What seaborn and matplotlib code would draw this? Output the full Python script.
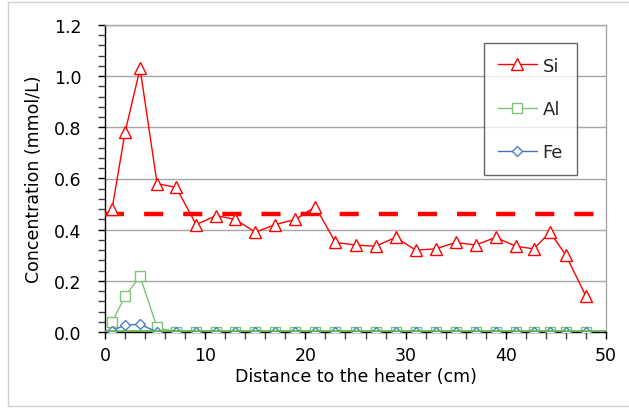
import matplotlib
matplotlib.use("Agg")
import matplotlib.pyplot as plt
import seaborn as sns
import pandas as pd
from matplotlib.patches import Rectangle
from matplotlib.ticker import MultipleLocator

# Data
distance = [0.7, 2.0, 3.5, 5.2, 7.1, 9.1, 11.1, 13.0, 15.0, 17.0, 19.0, 21.0, 23.0,
            25.0, 27.0, 29.0, 31.0, 33.0, 35.0, 37.0, 39.0, 41.0, 42.8, 44.4, 46.0, 48.0]
si = [0.48, 0.78, 1.03, 0.58, 0.565, 0.42, 0.455, 0.44, 0.39, 0.42, 0.44, 0.49, 0.35,
      0.34, 0.335, 0.37, 0.32, 0.325, 0.35, 0.34, 0.37, 0.335, 0.325, 0.39, 0.30, 0.14]
al = [0.038, 0.14, 0.217, 0.018] + [0.0] * 22
fe = [0.005, 0.027, 0.03, 0.0] + [0.0] * 22
si_mean_level = 0.462
ref_x = [0, 50]
zero_level = 0.0

sns.set_theme(style="white")
plt.rcParams['font.family'] = ['DejaVu Sans']

fig = plt.figure(figsize=(6.29, 4.10), dpi=100)
ax = fig.add_axes([105/629, 1 - 333/410, (606-105)/629, (333-26)/410])

# chart area border
fig.patches.append(Rectangle((8/629, 3/410), 1.2, (407-3)/410, transform=fig.transFigure,
                             fill=False, edgecolor='#d0d0d0', linewidth=1.0, zorder=0))

df = pd.DataFrame({"x": distance, "Si": si, "Al": al, "Fe": fe})

# grid
for yv in [0.2, 0.4, 0.6, 0.8, 1.0, 1.2]:
    ax.axhline(yv, color='#a6a6a6', linewidth=1.0, zorder=0)

# reference lines
ax.plot(ref_x, [zero_level, zero_level], color='#5fb34a', linewidth=2.6, zorder=7, solid_capstyle='butt')
ax.plot(ref_x, [si_mean_level, si_mean_level], color='#ff0000', linewidth=3.2,
        dashes=(4.3, 4.5), zorder=3)

sns.lineplot(data=df, x="x", y="Si", ax=ax, color='#ff0000', linewidth=1.0,
             marker='^', markersize=9, markerfacecolor='white', markeredgecolor='#ff0000',
             markeredgewidth=1.0, label='Si', zorder=6)
sns.lineplot(data=df, x="x", y="Al", ax=ax, color='#7cc576', linewidth=1.0,
             marker='s', markersize=7, markerfacecolor='white', markeredgecolor='#7cc576',
             markeredgewidth=1.0, label='Al', zorder=4)
sns.lineplot(data=df, x="x", y="Fe", ax=ax, color='#4472c4', linewidth=1.0,
             marker='D', markersize=5.5, markerfacecolor='white', markeredgecolor='#4a7fd0',
             markeredgewidth=1.0, label='Fe', zorder=5)

ax.set_xlim(0, 50)
ax.set_ylim(0, 1.2)
ax.xaxis.set_major_locator(MultipleLocator(10))
ax.xaxis.set_minor_locator(MultipleLocator(2))
ax.yaxis.set_major_locator(MultipleLocator(0.2))
ax.yaxis.set_minor_locator(MultipleLocator(0.04))
ax.yaxis.set_major_formatter(matplotlib.ticker.FormatStrFormatter('%.1f'))

for s in ['top', 'right']:
    ax.spines[s].set_color('#a6a6a6')
    ax.spines[s].set_linewidth(1.0)
for s in ['left', 'bottom']:
    ax.spines[s].set_color('#000000')
    ax.spines[s].set_linewidth(1.0)

ax.tick_params(axis='both', which='both', direction='out', colors='#000000',
               left=True, bottom=True, length=5, width=1.0)
ax.tick_params(axis='y', which='both', labelsize=12.5, pad=12)
ax.tick_params(axis='x', which='both', labelsize=12.5, pad=5)
ax.tick_params(axis='both', which='minor', colors='#404040')

ax.set_xlabel("Distance to the heater (cm)", fontsize=12.5, labelpad=2, color='black')
ax.set_ylabel("Concentration (mmol/L)", fontsize=12.5, labelpad=8, color='black')

handles, labels = ax.get_legend_handles_labels()
order = [labels.index(k) for k in ['Si', 'Al', 'Fe']]
leg = ax.legend([handles[i] for i in order], [labels[i] for i in order],
                loc='upper left', bbox_to_anchor=(484/629, 1 - 44/410),
                bbox_transform=fig.transFigure, fontsize=13, frameon=True,
                fancybox=False, edgecolor='#404040', handlelength=2.2,
                labelspacing=1.4, borderpad=0.75, handletextpad=0.3, borderaxespad=0)
leg.get_frame().set_linewidth(1.0)
leg.set_zorder(10)

fig.savefig("out.png", dpi=100)
